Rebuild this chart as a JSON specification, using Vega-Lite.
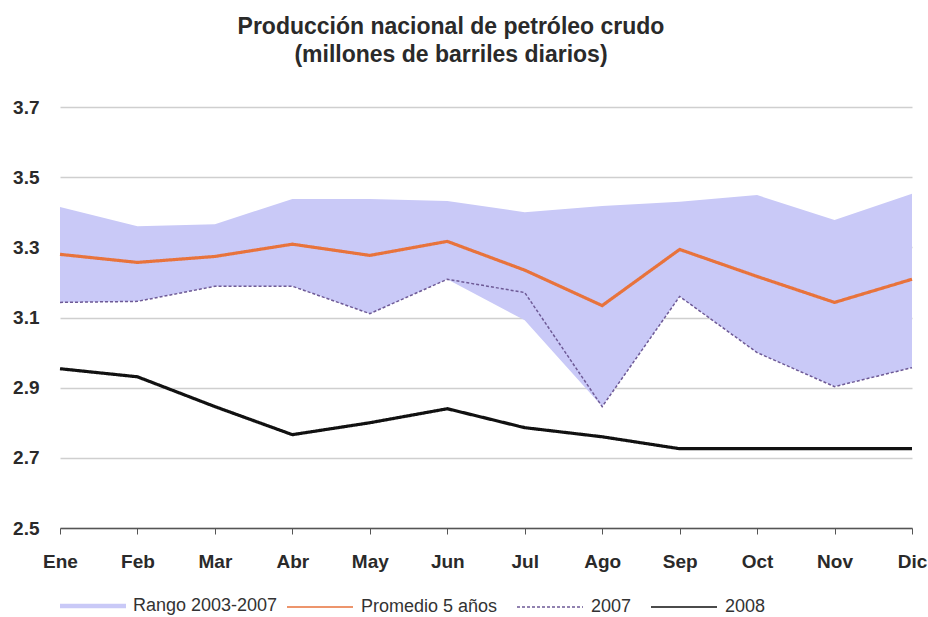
{
  "$schema": "https://vega.github.io/schema/vega-lite/v6.json",
  "width": 852,
  "height": 421,
  "autosize": "none",
  "padding": {"left": 60, "top": 107, "right": 16, "bottom": 89},
  "background": "white",
  "title": {
    "text": ["Producción nacional de petróleo crudo", "(millones de barriles diarios)"],
    "font": "Liberation Sans, Arial, sans-serif",
    "fontSize": 23,
    "fontWeight": "bold",
    "color": "#2a2a2a",
    "lineHeight": 28,
    "anchor": "middle",
    "frame": "group",
    "offset": 31,
    "dx": -35
  },
  "config": {
    "view": {"stroke": null},
    "font": "Liberation Sans, Arial, sans-serif",
    "legend": {
      "orient": "bottom",
      "direction": "horizontal",
      "title": null,
      "labelFont": "Liberation Sans, Arial, sans-serif",
      "labelFontSize": 18,
      "labelColor": "#333333",
      "symbolSize": 4356,
      "symbolStrokeWidth": 1.5,
      "columnPadding": 16,
      "labelOffset": 7,
      "offset": 2,
      "padding": 0,
      "labelLimit": 300
    }
  },
  "data": {
    "values": [
      {"mes": "Ene", "min": 3.143, "max": 3.415, "Promedio 5 años": 3.280, "2007": 3.143, "2008": 2.954},
      {"mes": "Feb", "min": 3.146, "max": 3.360, "Promedio 5 años": 3.257, "2007": 3.146, "2008": 2.931},
      {"mes": "Mar", "min": 3.189, "max": 3.366, "Promedio 5 años": 3.274, "2007": 3.189, "2008": 2.846},
      {"mes": "Abr", "min": 3.189, "max": 3.438, "Promedio 5 años": 3.309, "2007": 3.189, "2008": 2.766},
      {"mes": "May", "min": 3.111, "max": 3.438, "Promedio 5 años": 3.277, "2007": 3.111, "2008": 2.800},
      {"mes": "Jun", "min": 3.209, "max": 3.432, "Promedio 5 años": 3.317, "2007": 3.209, "2008": 2.840},
      {"mes": "Jul", "min": 3.092, "max": 3.400, "Promedio 5 años": 3.235, "2007": 3.171, "2008": 2.786},
      {"mes": "Ago", "min": 2.846, "max": 3.418, "Promedio 5 años": 3.134, "2007": 2.846, "2008": 2.760},
      {"mes": "Sep", "min": 3.160, "max": 3.430, "Promedio 5 años": 3.294, "2007": 3.160, "2008": 2.726},
      {"mes": "Oct", "min": 3.000, "max": 3.449, "Promedio 5 años": 3.217, "2007": 3.000, "2008": 2.726},
      {"mes": "Nov", "min": 2.903, "max": 3.378, "Promedio 5 años": 3.143, "2007": 2.903, "2008": 2.726},
      {"mes": "Dic", "min": 2.957, "max": 3.453, "Promedio 5 años": 3.209, "2007": 2.957, "2008": 2.726}
    ]
  },
  "encoding": {
    "x": {
      "field": "mes",
      "type": "ordinal",
      "sort": null,
      "scale": {"type": "point", "padding": 0},
      "axis": {
        "title": null,
        "labelAngle": 0,
        "labelFont": "Liberation Sans, Arial, sans-serif",
        "labelFontSize": 19,
        "labelFontWeight": "bold",
        "labelColor": "#2a2a2a",
        "labelPadding": 18,
        "domainColor": "#555555",
        "domainWidth": 1.5,
        "tickColor": "#555555",
        "tickSize": 6,
        "grid": false
      }
    }
  },
  "layer": [
    {
      "mark": {"type": "area", "opacity": 1},
      "encoding": {
        "y": {
          "field": "min",
          "type": "quantitative",
          "scale": {"domain": [2.5, 3.7], "nice": false, "zero": false},
          "axis": {
            "title": null,
            "values": [2.5, 2.7, 2.9, 3.1, 3.3, 3.5, 3.7],
            "format": ".1f",
            "domain": false,
            "ticks": false,
            "grid": true,
            "gridColor": "#cfcfcf",
            "gridWidth": 1.5,
            "labelFont": "Liberation Sans, Arial, sans-serif",
            "labelFontSize": 19,
            "labelFontWeight": "bold",
            "labelColor": "#2a2a2a",
            "labelPadding": 21
          }
        },
        "y2": {"field": "max"},
        "fill": {
          "datum": "Rango 2003-2007",
          "type": "nominal",
          "scale": {"range": ["#c9c9f7"]},
          "legend": {"symbolType": "M-1,-0.07H1V0.07H-1Z", "symbolStrokeWidth": 0}
        }
      }
    },
    {
      "transform": [
        {"fold": ["2007", "Promedio 5 años", "2008"], "as": ["serie", "valor"]}
      ],
      "mark": {"type": "line"},
      "encoding": {
        "y": {"field": "valor", "type": "quantitative"},
        "stroke": {
          "field": "serie",
          "type": "nominal",
          "scale": {"domain": ["Promedio 5 años", "2007", "2008"], "range": ["#e8733c", "#6e5a96", "#111111"]},
          "legend": {"symbolType": "M-1,0H1"}
        },
        "strokeDash": {
          "field": "serie",
          "type": "nominal",
          "scale": {"domain": ["Promedio 5 años", "2007", "2008"], "range": [[1, 0], [3, 2], [1, 0]]}
        },
        "strokeWidth": {
          "condition": {"test": "datum.serie === '2007'", "value": 1.5},
          "value": 3.2
        }
      }
    }
  ]
}
